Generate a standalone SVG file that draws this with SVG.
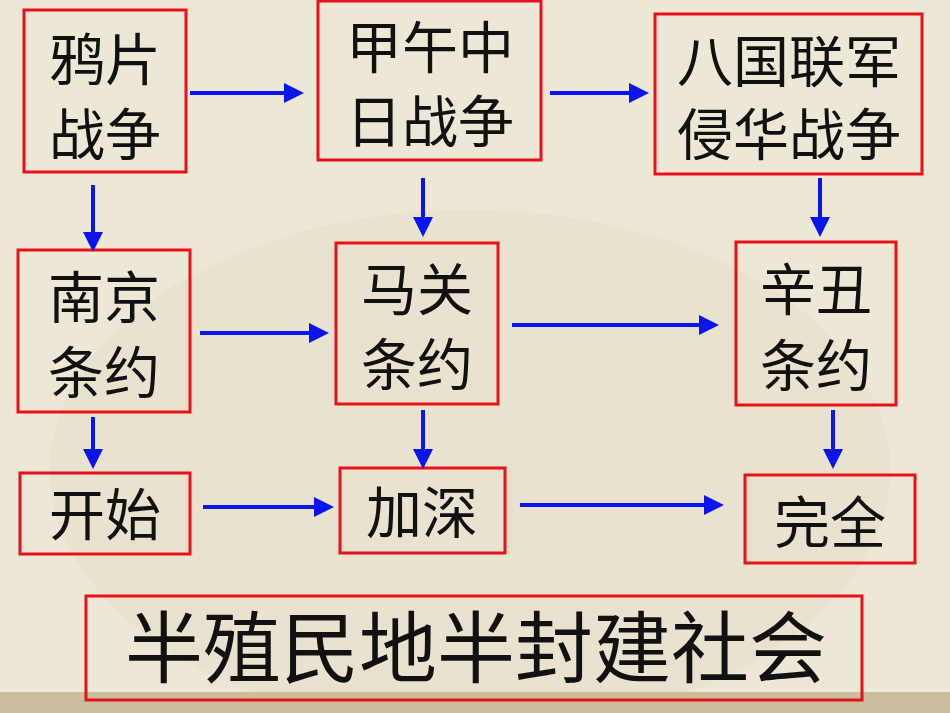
<svg xmlns="http://www.w3.org/2000/svg" width="950" height="713" viewBox="0 0 950 713">
<style>
.b{fill:none;stroke:#e8101a;stroke-width:3}
.t{font-family:"Noto Sans CJK SC",sans-serif;font-size:56px;fill:#111;text-anchor:middle}
.c line{stroke:#0a14f0;stroke-width:4;marker-end:url(#a)}
</style>
<defs><marker id="a" markerWidth="5" markerHeight="5" refX="4" refY="2.5" orient="auto" markerUnits="strokeWidth"><path d="M0,0L5,2.5L0,5z" fill="#0a14f0"/></marker></defs>
<rect width="950" height="713" fill="#ede7d6"/>
<ellipse cx="470" cy="470" rx="420" ry="260" fill="#e4dcc6" opacity="0.4"/>
<rect y="692" width="950" height="21" fill="#c9bd9c"/>
<g id="n1"><rect class="b" x="24" y="10" width="162" height="162"/><text class="t" x="105" y="80">鸦片</text><text class="t" x="105" y="155">战争</text></g>
<g id="n2"><rect class="b" x="318" y="1" width="223" height="159"/><text class="t" x="430" y="68">甲午中</text><text class="t" x="430" y="142">日战争</text></g>
<g id="n3"><rect class="b" x="655" y="14" width="267" height="160"/><text class="t" x="789" y="82">八国联军</text><text class="t" x="789" y="155">侵华战争</text></g>
<g id="n4"><rect class="b" x="18" y="250" width="172" height="162"/><text class="t" x="104" y="318">南京</text><text class="t" x="104" y="393">条约</text></g>
<g id="n5"><rect class="b" x="336" y="243" width="162" height="161"/><text class="t" x="417" y="310">马关</text><text class="t" x="417" y="385">条约</text></g>
<g id="n6"><rect class="b" x="736" y="242" width="160" height="163"/><text class="t" x="816" y="310">辛丑</text><text class="t" x="816" y="386">条约</text></g>
<g id="n7"><rect class="b" x="20" y="473" width="170" height="81"/><text class="t" x="105" y="535">开始</text></g>
<g id="n8"><rect class="b" x="340" y="468" width="165" height="85"/><text class="t" x="422" y="533">加深</text></g>
<g id="n9"><rect class="b" x="745" y="475" width="170" height="88"/><text class="t" x="830" y="543">完全</text></g>
<g id="n10"><rect class="b" x="86" y="596" width="776" height="104"/><text class="t" x="476" y="677" style="font-size:78px">半殖民地半封建社会</text></g>
<g class="c">
<line x1="190" y1="93" x2="300" y2="93"/><line x1="550" y1="93" x2="645" y2="93"/>
<line x1="93" y1="185" x2="93" y2="248"/><line x1="423" y1="178" x2="423" y2="233"/><line x1="820" y1="178" x2="820" y2="233"/>
<line x1="200" y1="333" x2="325" y2="333"/><line x1="512" y1="325" x2="715" y2="325"/>
<line x1="93" y1="417" x2="93" y2="465"/><line x1="423" y1="410" x2="423" y2="465"/><line x1="833" y1="410" x2="833" y2="465"/>
<line x1="203" y1="507" x2="330" y2="507"/><line x1="520" y1="505" x2="720" y2="505"/>
</g>
</svg>
